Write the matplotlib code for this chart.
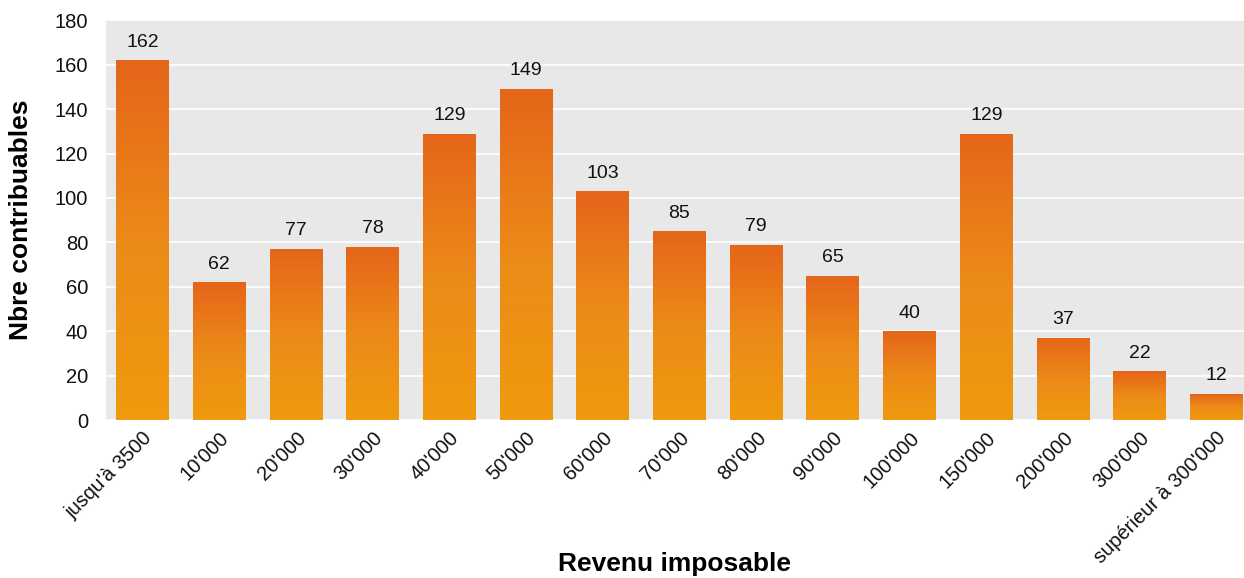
import numpy as np
import matplotlib.pyplot as plt
from matplotlib.colors import LinearSegmentedColormap

plt.rcParams['font.family'] = ['Liberation Sans', 'DejaVu Sans']

# --- data ---
categories = ["jusqu'à 3500", "10'000", "20'000", "30'000", "40'000", "50'000",
              "60'000", "70'000", "80'000", "90'000", "100'000", "150'000",
              "200'000", "300'000", "supérieur à 300'000"]
values = [162, 62, 77, 78, 129, 149, 103, 85, 79, 65, 40, 129, 37, 22, 12]

fig = plt.figure(figsize=(12.44, 5.78), dpi=100)
ax = fig.add_axes([0.0844, 0.273, 0.9156, 0.692])
ax.set_facecolor('#E8E8E8')

x = np.arange(len(categories))
width = 0.69
bars = ax.bar(x, values, width=width, color='none', zorder=2)

# orange gradient inside each bar: darker at top, lighter at bottom
cmap = LinearSegmentedColormap.from_list('orange', ['#F09A0E', '#EC8A18', '#E5651A'])
grad = np.linspace(0, 1, 256).reshape(-1, 1)
for b in bars:
    x0, y0 = b.get_x(), b.get_y()
    w, h = b.get_width(), b.get_height()
    im = ax.imshow(grad, cmap=cmap, aspect='auto', origin='lower',
                   extent=(x0, x0 + w, y0, y0 + h), zorder=2)
    im.set_clip_path(b)

for xi, v in zip(x, values):
    ax.annotate(str(v), (xi, v), xytext=(0, 7), textcoords='offset points',
                ha='center', va='bottom', fontsize=14, color='#111111')

ax.set_xlim(-0.49, 14.36)
ax.set_ylim(0, 180)
ax.set_yticks(np.arange(0, 181, 20))
ax.yaxis.grid(True, color='white', linewidth=1.2)
ax.set_axisbelow(True)
for s in ['top', 'right', 'bottom']:
    ax.spines[s].set_visible(False)
ax.spines['left'].set_color('white')
ax.tick_params(axis='both', length=0, labelsize=14.5, colors='#111111')
ax.tick_params(axis='y', pad=12)
ax.tick_params(axis='x', pad=6)

ax.set_xticks(x)
ax.set_xticklabels(categories, rotation=45, ha='right', rotation_mode='anchor')

ax.set_ylabel('Nbre contribuables', fontsize=19, fontweight='bold')
ax.yaxis.set_label_coords(-0.063, 0.5)
ax.set_xlabel('Revenu imposable', fontsize=19, fontweight='bold')
ax.xaxis.set_label_coords(0.5, -0.33)

fig.savefig('out.png', dpi=100)
